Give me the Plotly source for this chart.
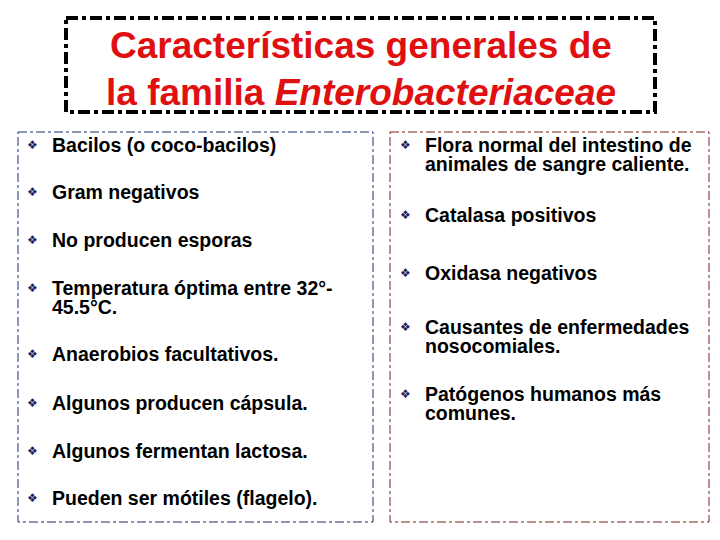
import plotly.graph_objects as go

titulo = ["<b>Características generales de</b>", "<b>la familia <i>Enterobacteriaceae</i></b>"]

izquierda = [
    ["Bacilos (o coco-bacilos)"],
    ["Gram negativos"],
    ["No producen esporas"],
    ["Temperatura óptima entre 32°-", "45.5°C."],
    ["Anaerobios facultativos."],
    ["Algunos producen cápsula."],
    ["Algunos fermentan lactosa."],
    ["Pueden ser mótiles (flagelo)."],
]
derecha = [
    ["Flora normal del intestino de", "animales de sangre caliente."],
    ["Catalasa positivos"],
    ["Oxidasa negativos"],
    ["Causantes de enfermedades", "nosocomiales."],
    ["Patógenos humanos más", "comunes."],
]

# posiciones (px desde arriba) de la primera línea de cada viñeta
y_izq = [145, 192, 240, 288, 354, 403, 451, 498]
y_der = [145, 215, 273, 327, 394]

fig = go.Figure()
fig.add_trace(go.Scatter(x=[100, 600], y=[100, 400], mode="markers",
                         marker=dict(opacity=0), hoverinfo="skip", showlegend=False))

fig.add_shape(type="rect", x0=66, x1=655, y0=18, y1=112,
              line=dict(color="black", width=4, dash="dashdot"))
fig.add_shape(type="rect", x0=18, x1=373, y0=132, y1=522,
              line=dict(color="#1f2a6b", width=1, dash="dashdot"))
fig.add_shape(type="rect", x0=390, x1=709, y0=132, y1=522,
              line=dict(color="#7a2020", width=1, dash="dashdot"))

anots = []
for i, t in enumerate(titulo):
    anots.append(dict(x=361, y=45 + 47 * i, text=t, showarrow=False, xanchor="center",
                      yanchor="middle", font=dict(family="Liberation Sans", size=37, color="#e01010")))

def vinetas(textos, ys, xb, xt):
    for lineas, y in zip(textos, ys):
        anots.append(dict(x=xb, y=y, text="❖", showarrow=False, xanchor="center",
                          yanchor="middle", font=dict(family="DejaVu Sans", size=12, color="#1a1a60")))
        for j, t in enumerate(lineas):
            anots.append(dict(x=xt, y=y + 19 * j, text="<b>" + t + "</b>", showarrow=False,
                              xanchor="left", yanchor="middle",
                              font=dict(family="Liberation Sans", size=19.5, color="black")))

vinetas(izquierda, y_izq, 32, 50)
vinetas(derecha, y_der, 405, 423)

# la página desplaza el gráfico ~8px; se compensa en los rangos
fig.update_layout(
    width=720, height=540, margin=dict(l=0, r=0, t=0, b=0),
    plot_bgcolor="white", paper_bgcolor="white", annotations=anots,
    xaxis=dict(range=[8, 728], visible=False, fixedrange=True),
    yaxis=dict(range=[548, 8], visible=False, fixedrange=True),
)
fig.write_html("out.html")
